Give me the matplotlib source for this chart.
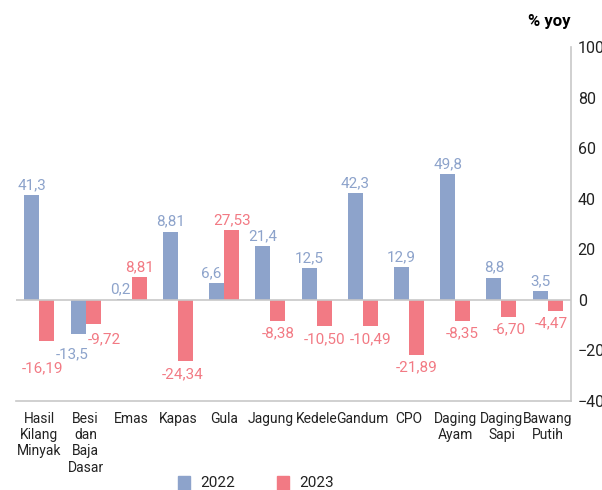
import matplotlib
matplotlib.use("Agg")
import matplotlib.pyplot as plt
from matplotlib.patches import Rectangle
import numpy as np

categories = ["Hasil\nKilang\nMinyak", "Besi\ndan\nBaja\nDasar", "Emas", "Kapas", "Gula",
              "Jagung", "Kedele", "Gandum", "CPO", "Daging\nAyam", "Daging\nSapi", "Bawang\nPutih"]
y2022 = [41.3, -13.5, 0.2, 27.0, 6.6, 21.4, 12.5, 42.3, 12.9, 49.8, 8.8, 3.5]
y2023 = [-16.19, -9.72, 8.81, -24.34, 27.53, -8.38, -10.50, -10.49, -21.89, -8.35, -6.70, -4.47]
labels2022 = ["41,3", "-13,5", "0,2", "8,81", "6,6", "21,4", "12,5", "42,3", "12,9", "49,8", "8,8", "3,5"]
labels2023 = ["-16,19", "-9,72", "8,81", "-24,34", "27,53", "-8,38", "-10,50", "-10,49",
              "-21,89", "-8,35", "-6,70", "-4,47"]
yticks = [-40, -20, 0, 20, 40, 60, 80, 100]
series = ["2022", "2023"]

blue = "#8da3cb"
red = "#f27a84"
plt.rcParams["font.family"] = ["Roboto", "DejaVu Sans"]

fig = plt.figure(figsize=(6.02, 4.9), dpi=100)
ax = fig.add_axes([0.027, 0.182, 0.921, 0.722])

x = np.arange(len(categories))
w = 0.325
b1 = ax.bar(x - w / 2, y2022, w, color=blue)
b2 = ax.bar(x + w / 2, y2023, w, color=red)

# a few labels are shifted in the original so they don't collide (points)
nudge2022 = {1: (-4, -6), 2: (-3, 0), 4: (-4, 0)}
nudge2023 = {0: (-3, -11), 1: (8, -2), 3: (-2, 0), 11: (-3, 0)}
for bars, labs, col, nudge in [(b1, labels2022, blue, nudge2022), (b2, labels2023, red, nudge2023)]:
    for i, (bar, lab) in enumerate(zip(bars, labs)):
        h = bar.get_height()
        cx = bar.get_x() + bar.get_width() / 2
        dx, dy = nudge.get(i, (0, 0))
        if h >= 0:
            ax.annotate(lab, (cx, h), xytext=(dx, 2 + dy), textcoords="offset points",
                        ha="center", va="bottom", color=col, fontsize=11)
        else:
            ax.annotate(lab, (cx, h), xytext=(dx, -4 + dy), textcoords="offset points",
                        ha="center", va="top", color=col, fontsize=11)

ax.axhline(0, color="#c8c8c8", lw=1.2)
ax.set_xlim(-0.5, len(categories) - 0.5)
ax.set_ylim(-40, 100)
ax.set_yticks(yticks)
ax.yaxis.tick_right()
ax.tick_params(axis="y", length=0, labelsize=11.5, pad=5, colors="#222222")
ax.set_xticks(x)
ax.set_xticklabels(categories, fontsize=10, linespacing=1.2)
ax.tick_params(axis="x", length=0, pad=8, colors="#222222")
for s in ["left", "top"]:
    ax.spines[s].set_visible(False)
for s in ["right", "bottom"]:
    ax.spines[s].set_color("#c8c8c8")
    ax.spines[s].set_linewidth(1.2)

fig.text(0.948, 0.94, "% yoy", ha="right", va="bottom", fontsize=12, fontweight="bold")

# legend drawn by hand at the very bottom, like the original
for lx, name, col in zip([0.296, 0.460], series, [blue, red]):
    fig.patches.append(Rectangle((lx, 0.0), 0.020, 0.029, color=col,
                                 transform=fig.transFigure, figure=fig))
    fig.text(lx + 0.037, 0.014, name, ha="left", va="center", fontsize=11, color="#222222")

fig.savefig("out.png", dpi=100)
